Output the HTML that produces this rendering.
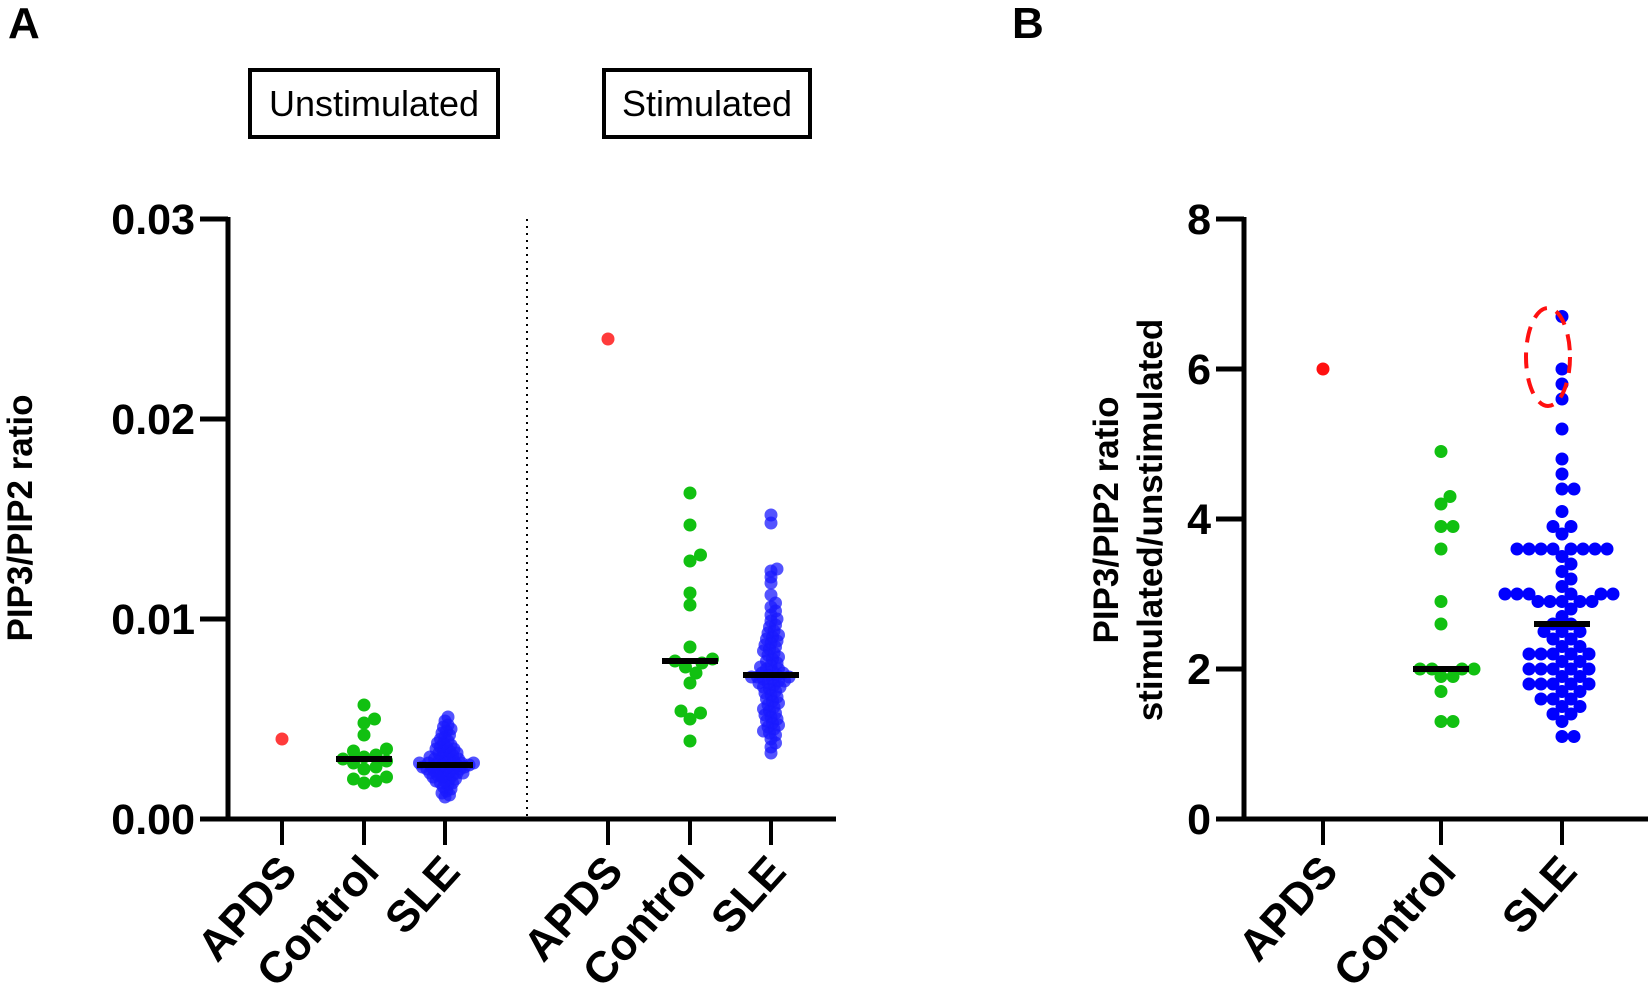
<!DOCTYPE html>
<html><head><meta charset="utf-8"><style>
body{margin:0;background:#fff;}
svg{display:block;font-family:"Liberation Sans",Arial,sans-serif;}
</style></head><body>
<svg id="chart" width="1648" height="994" xmlns="http://www.w3.org/2000/svg">
<text x="8" y="38" font-size="44" font-weight="bold">A</text>
<text x="1012" y="38" font-size="44" font-weight="bold">B</text>
<g><rect x="250" y="70" width="248" height="67" fill="none" stroke="#000" stroke-width="4"/><text x="374" y="116" font-size="36" text-anchor="middle">Unstimulated</text></g>
<g><rect x="604" y="70" width="206" height="67" fill="none" stroke="#000" stroke-width="4"/><text x="707" y="116" font-size="36" text-anchor="middle">Stimulated</text></g>
<text transform="translate(32,518) rotate(-90)" font-size="35" font-weight="bold" text-anchor="middle">PIP3/PIP2 ratio</text>
<text transform="translate(1118,520) rotate(-90)" font-size="35" font-weight="bold" text-anchor="middle"><tspan x="0" y="0">PIP3/PIP2 ratio</tspan><tspan x="0" y="44">stimulated/unstimulated</tspan></text>
<line x1="527" y1="219" x2="527" y2="817" stroke="#000" stroke-width="2" stroke-dasharray="2,5"/>
<g id="gA"></g><g id="gB"></g>
<ellipse cx="1548" cy="357" rx="22" ry="49" fill="none" stroke="#ff1010" stroke-width="4" stroke-dasharray="16,10"/>
</svg>
<script>
const catsA=["APDS","Control","SLE","APDS","Control","SLE"];
const ticksA=[0,0.01,0.02,0.03];
const tickLabelsA=["0.00","0.01","0.02","0.03"];
const apdsUn=[0.0040];
const ctrlUn=[0.0057,0.0050,0.0048,0.0042,0.0035,0.0034,0.0032,0.0031,0.0030,0.0029,0.0028,0.0026,0.0025,0.0021,0.0020,0.0019,0.0018];
const sleUn=[0.0051,0.0049,0.0047,0.0046,0.0045,0.0044,0.0043,0.0042,0.0041,0.0040,0.0039,0.0038,0.0038,0.0037,0.0036,0.0036,0.0035,0.0035,0.0034,0.0034,0.0033,0.0033,0.0032,0.0032,0.0031,0.0031,0.0030,0.0030,0.0030,0.0029,0.0029,0.0029,0.0028,0.0028,0.0028,0.0028,0.0027,0.0027,0.0027,0.0027,0.0027,0.0026,0.0026,0.0026,0.0026,0.0025,0.0025,0.0025,0.0025,0.0024,0.0024,0.0024,0.0023,0.0023,0.0023,0.0022,0.0022,0.0022,0.0021,0.0021,0.0020,0.0020,0.0019,0.0019,0.0018,0.0018,0.0017,0.0016,0.0015,0.0014,0.0013,0.0012,0.0011];
const apdsSt=[0.0240];
const ctrlSt=[0.0163,0.0147,0.0132,0.0129,0.0113,0.0107,0.0086,0.0080,0.0079,0.0078,0.0076,0.0073,0.0068,0.0054,0.0053,0.0050,0.0039];
const sleSt=[0.0152,0.0148,0.0125,0.0124,0.0121,0.0118,0.0112,0.0108,0.0106,0.0104,0.0102,0.0100,0.0099,0.0097,0.0096,0.0094,0.0093,0.0092,0.0091,0.0090,0.0089,0.0088,0.0087,0.0086,0.0085,0.0084,0.0083,0.0082,0.0081,0.0080,0.0079,0.0078,0.0077,0.0076,0.0075,0.0075,0.0074,0.0073,0.0073,0.0072,0.0072,0.0071,0.0071,0.0071,0.0070,0.0070,0.0069,0.0069,0.0068,0.0068,0.0067,0.0066,0.0066,0.0065,0.0064,0.0063,0.0062,0.0061,0.0060,0.0059,0.0058,0.0057,0.0056,0.0055,0.0054,0.0053,0.0052,0.0051,0.0050,0.0049,0.0048,0.0047,0.0046,0.0045,0.0044,0.0043,0.0042,0.0040,0.0038,0.0036,0.0033];
const catsB=["APDS","Control","SLE"];
const ticksB=[0,2,4,6,8];
const apdsB=[6.0];
const ctrlB=[4.9,4.3,4.2,3.9,3.9,3.6,2.9,2.6,2.0,2.0,2.0,2.0,1.9,1.9,1.7,1.3,1.3];
const sleB=[6.7,6.0,5.8,5.6,5.2,4.8,4.6,4.4,4.4,4.1,3.9,3.9,3.8,3.6,3.6,3.6,3.6,3.6,3.6,3.6,3.6,3.5,3.4,3.3,3.2,3.1,3.0,3.0,3.0,3.0,3.0,3.0,2.9,2.9,2.9,2.9,2.9,2.8,2.7,2.6,2.6,2.5,2.5,2.5,2.4,2.4,2.3,2.3,2.2,2.2,2.2,2.2,2.2,2.1,2.1,2.0,2.0,2.0,2.0,2.0,1.9,1.9,1.8,1.8,1.8,1.8,1.8,1.7,1.7,1.6,1.6,1.6,1.5,1.5,1.4,1.4,1.3,1.1,1.1];

const NS="http://www.w3.org/2000/svg";
function mk(parent,tag,attrs){const e=document.createElementNS(NS,tag);for(const k in attrs)e.setAttribute(k,attrs[k]);parent.appendChild(e);return e;}
const median=a=>{const s=[...a].sort((x,y)=>x-y);const n=s.length;return n%2?s[(n-1)/2]:(s[n/2-1]+s[n/2])/2;};

function swarm(g,vals,cx,yf,r,color,op,name,fac){
  const placed=[];const d=2*r*fac;
  [...vals].sort((a,b)=>a-b).forEach(v=>{
    const y=yf(v);let x=cx;
    for(let k=0;k<80;k++){
      const off=k===0?0:Math.ceil(k/2)*(k%2?1:-1)*1.5;
      const tx=cx+off;
      if(placed.every(p=>Math.hypot(p[0]-tx,p[1]-y)>=d)){x=tx;break;}
    }
    placed.push([x,y]);
    const c=mk(g,'circle',{cx:x,cy:y,r:r,fill:color,'fill-opacity':op});
    
    
  });
}
function medLine(g,vals,cx,yf,name){
  const y=yf(median(vals));
  const l=mk(g,'line',{x1:cx-28,x2:cx+28,y1:y,y2:y,stroke:'#000','stroke-width':6});
  
  
}
function axes(g,x0,x1,y0,yTop,yf,ticks,labels,cats,xs,pfx){
  const ax=mk(g,'line',{x1:x0,x2:x0,y1:yTop-2,y2:y0+2,stroke:'#000','stroke-width':5});
  
  
  const xa=mk(g,'line',{x1:x0-28,x2:x1,y1:y0,y2:y0,stroke:'#000','stroke-width':5});
  
  
  ticks.forEach((t,i)=>{
    const y=yf(t);
    const tl=mk(g,'line',{x1:x0-28,x2:x0,y1:y,y2:y,stroke:'#000','stroke-width':5});
    
    
    const tx=mk(g,'text',{x:x0-33,y:y+15,'font-size':43,'font-weight':'bold','text-anchor':'end'});
    tx.textContent=labels[i];
    
    
  });
  cats.forEach((c,i)=>{
    const x=xs[i];
    const tl=mk(g,'line',{x1:x,x2:x,y1:y0,y2:y0+26,stroke:'#000','stroke-width':4});
    
    
    const tx=mk(g,'text',{transform:`translate(${x+17},${y0+54}) rotate(-48)`,'font-size':44,'font-weight':'bold','text-anchor':'end'});
    tx.textContent=c;
    
    
  });
}
// Panel A
const gA=document.getElementById('gA');
const yA=v=>819-v*20000;
const xsA=[282,364,445,608,690,771];
axes(gA,228,836,819,219,yA,ticksA,tickLabelsA,catsA,xsA,'a-');
const GREEN='#11c011',RED='#ff3b3b';
swarm(gA,apdsUn,xsA[0],yA,6.5,RED,1,'dot-apds-unstim',0.9);
swarm(gA,ctrlUn,xsA[1],yA,6.5,GREEN,1,'dot-control-unstim',0.85);
swarm(gA,sleUn,xsA[2],yA,6.5,'#1a1aff',0.75,'dot-sle-unstim',0.35);
swarm(gA,apdsSt,xsA[3],yA,6.5,RED,1,'dot-apds-stim',0.9);
swarm(gA,ctrlSt,xsA[4],yA,6.5,GREEN,1,'dot-control-stim',0.85);
swarm(gA,sleSt,xsA[5],yA,6.5,'#1a1aff',0.75,'dot-sle-stim',0.4);
medLine(gA,ctrlUn,xsA[1],yA,'median-control-unstim');
medLine(gA,sleUn,xsA[2],yA,'median-sle-unstim');
medLine(gA,ctrlSt,xsA[4],yA,'median-control-stim');
medLine(gA,sleSt,xsA[5],yA,'median-sle-stim');
// Panel B
const gB=document.getElementById('gB');
const yB=v=>819-v*75;
const xsB=[1323,1441,1562];
axes(gB,1244,1648,819,219,yB,ticksB,ticksB.map(String),catsB,xsB,'b-');
swarm(gB,apdsB,xsB[0],yB,6.5,'#ff1010',1,'dot-apds-ratio',0.9);
swarm(gB,ctrlB,xsB[1],yB,6.5,GREEN,1,'dot-control-ratio',0.9);
swarm(gB,sleB,xsB[2],yB,6.5,'#0000ff',1,'dot-sle-ratio',0.85);
medLine(gB,ctrlB,xsB[1],yB,'median-control-ratio');
medLine(gB,sleB,xsB[2],yB,'median-sle-ratio');
</script>
</body></html>
